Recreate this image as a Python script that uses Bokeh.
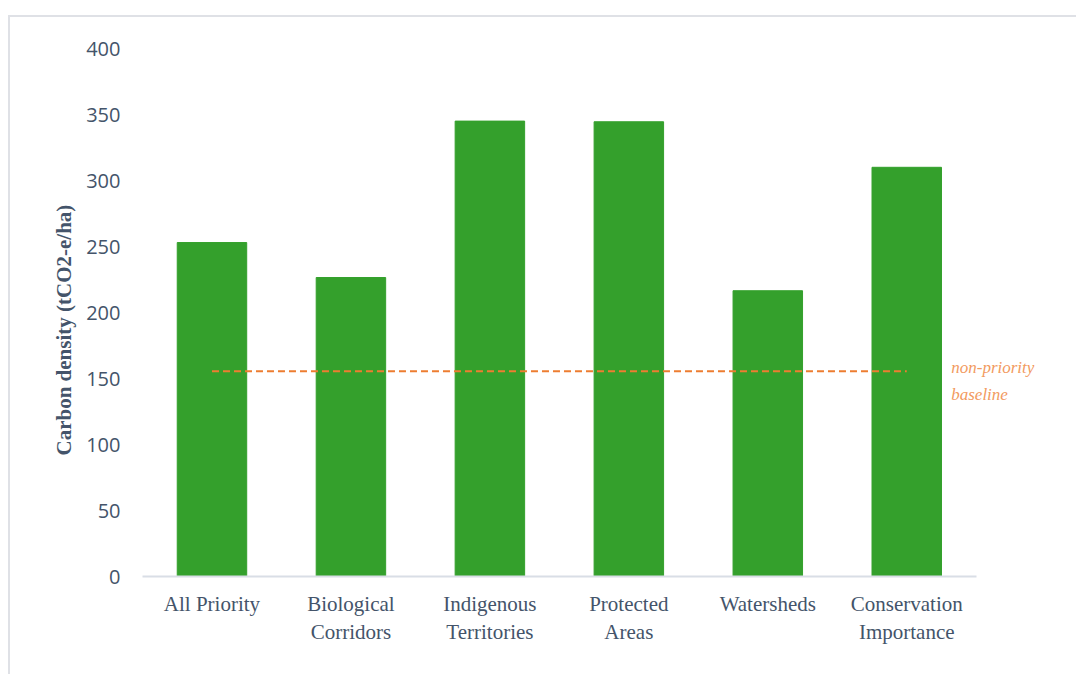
from bokeh.plotting import figure
from bokeh.models import Range1d, Label, Title, FixedTicker
from bokeh.embed import file_html
from bokeh.resources import INLINE

categories = ["All Priority", "Biological\nCorridors", "Indigenous\nTerritories",
              "Protected\nAreas", "Watersheds", "Conservation\nImportance"]
carbon_density = [253, 226.5, 345, 344.5, 216.5, 310]
baseline_value = 155.5
y_ticks = [0, 50, 100, 150, 200, 250, 300, 350, 400]

n = len(categories)
xpos = [i + 0.5 for i in range(n)]

TEXT = "#44546A"
p = figure(x_range=Range1d(0, 6.7), y_range=Range1d(0, 400),
           width=1068, height=659, output_backend="svg", toolbar_location=None,
           min_border_left=132, min_border_top=31, min_border_bottom=100, min_border_right=5)
p.margin = (15, 0, 0, 8)
p.styles = {"border-top": "2px solid #dfe1e6", "border-left": "2px solid #dfe1e6",
            "box-sizing": "border-box"}
p.outline_line_color = None
p.grid.visible = False

p.vbar(x=xpos, top=carbon_density, width=0.5, color="#34A02C")

p.line(x=[xpos[0], xpos[-1]], y=[baseline_value, baseline_value],
       line_color="#ED7D31", line_width=2, line_dash="7 4")

lab = Label(x=n - 0.18, y=baseline_value, text="non-priority\nbaseline",
            text_font="Liberation Serif", text_font_style="italic",
            text_font_size="17px", text_color="#F29A60",
            text_baseline="middle", y_offset=-10, text_line_height=1.4)
p.add_layout(lab)

p.yaxis.ticker = y_ticks
p.yaxis.axis_line_color = None
p.yaxis.major_tick_line_color = None
p.yaxis.minor_tick_line_color = None
p.yaxis.major_label_text_font = "Open Sans"
p.yaxis.major_label_text_font_size = "20px"
p.yaxis.major_label_text_color = TEXT
p.yaxis.major_label_standoff = 16

ytitle = Title(text="Carbon density (tCO2-e/ha)", align="left", offset=121,
               text_font="Liberation Serif", text_font_style="bold",
               text_font_size="21px", text_color=TEXT, standoff=15)
p.add_layout(ytitle, "left")

p.xaxis.ticker = FixedTicker(ticks=xpos)
p.xaxis.major_label_overrides = {x: c for x, c in zip(xpos, categories)}
p.xaxis.bounds = (0, n)
p.xaxis.axis_line_color = "#D9DEE6"
p.xaxis.axis_line_width = 2
p.xaxis.major_tick_line_color = None
p.xaxis.minor_tick_line_color = None
p.xaxis.major_label_text_font = "Liberation Serif"
p.xaxis.major_label_text_font_size = "21px"
p.xaxis.major_label_text_color = TEXT
p.xaxis.major_label_standoff = 9

open("out.html", "w").write(file_html(p, INLINE))
